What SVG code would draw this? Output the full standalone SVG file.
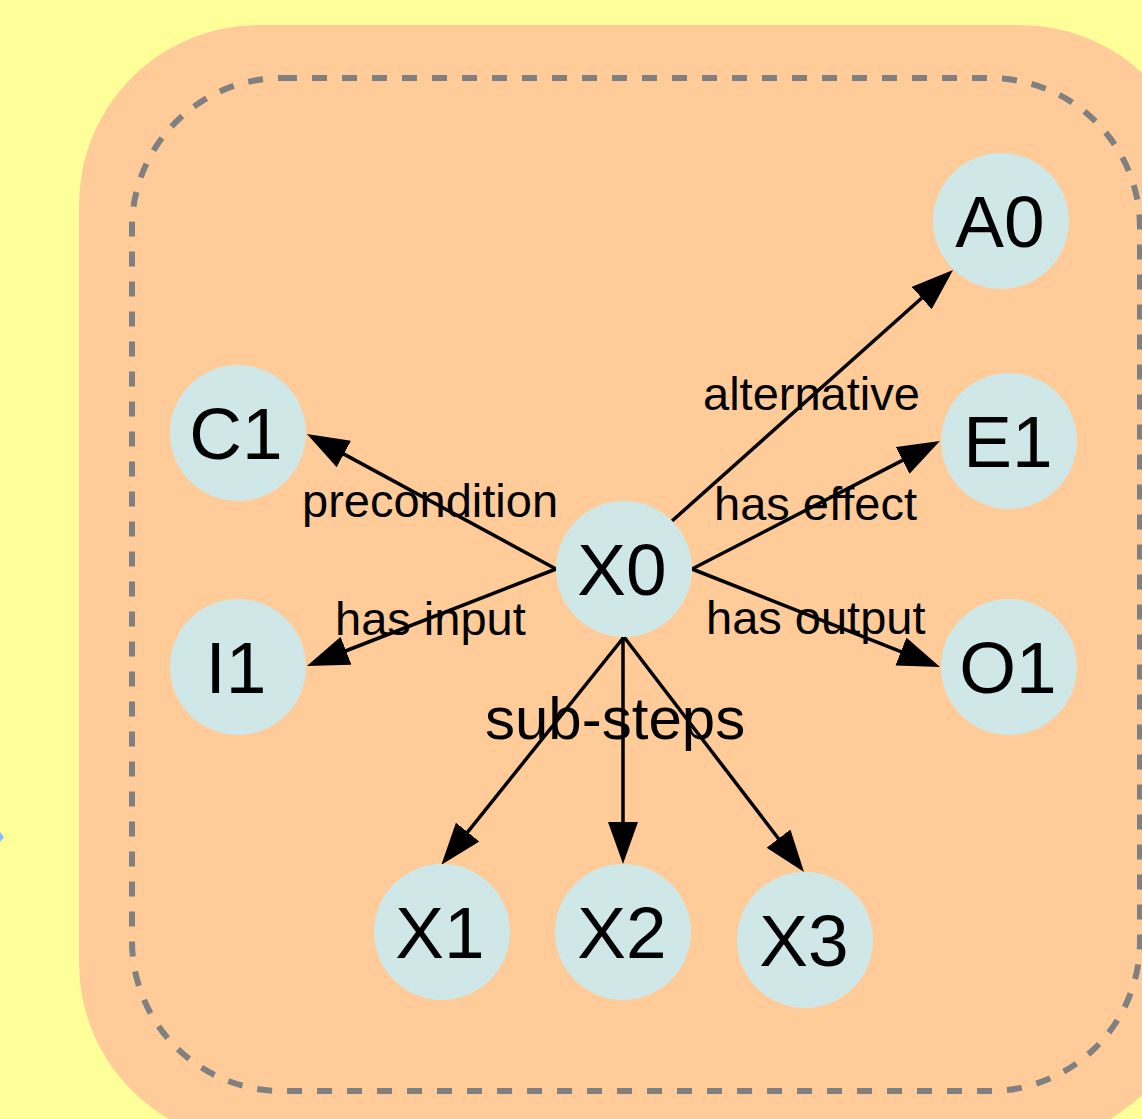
<svg xmlns="http://www.w3.org/2000/svg" width="1142" height="1119" viewBox="0 0 1142 1119">
<style>
.node circle{fill:#cfe7e6;}
.node text{font-family:"Liberation Sans",Arial,sans-serif;font-size:73px;fill:#000;text-anchor:middle;}
.edge line{stroke:#000;stroke-width:3.5;marker-end:url(#arr);}
.lbl{font-family:"Liberation Sans",Arial,sans-serif;font-size:47px;fill:#000;}
.lbl.big{font-size:60px;}
</style>
<defs>
<marker id="arr" markerUnits="userSpaceOnUse" markerWidth="43" markerHeight="30" refX="2" refY="15" orient="auto">
<path d="M0,0 L42,15 L0,30 Z" fill="#000"/>
</marker>
</defs>
<rect x="0" y="0" width="1142" height="1119" fill="#ffff99"/>
<path d="M0,832 L4,837 L0,842 Z" fill="#80c0ff"/>
<rect id="cluster-bg" x="79" y="25" width="1121" height="1118" rx="180" ry="180" fill="#ffcc99"/>
<rect id="cluster" x="132" y="78" width="1008" height="1013" rx="150" ry="150" fill="none" stroke="#808080" stroke-width="6" stroke-dasharray="15 15"/>
<g id="connectors" class="edge">
<line x1="556" y1="569" x2="342.1" y2="453.1"/>
<line x1="556" y1="569" x2="344.2" y2="651.5"/>
<line x1="692" y1="569" x2="904.4" y2="459.4"/>
<line x1="692" y1="569" x2="902.8" y2="652.3"/>
<line x1="672" y1="521" x2="923.2" y2="296.7"/>
<line x1="624" y1="637" x2="466.4" y2="833.6"/>
<line x1="623" y1="637" x2="623" y2="824"/>
<line x1="624" y1="637" x2="779.7" y2="840.2"/>
</g>
<g id="edge-labels">
<text class="lbl" x="302" y="517">precondition</text>
<text class="lbl" x="335" y="635">has input</text>
<text class="lbl" x="703" y="410">alternative</text>
<text class="lbl" x="714" y="520">has effect</text>
<text class="lbl" x="706" y="634">has output</text>
<text class="lbl big" x="485" y="739">sub-steps</text>
</g>
<g id="X0" class="node"><circle cx="624" cy="569" r="68"/><text x="622" y="595">X0</text></g>
<g id="A0" class="node"><circle cx="1001" cy="221" r="68"/><text x="1000" y="247">A0</text></g>
<g id="C1" class="node"><circle cx="238" cy="433" r="68"/><text x="236" y="459">C1</text></g>
<g id="I1" class="node"><circle cx="238" cy="667" r="68"/><text x="236" y="693">I1</text></g>
<g id="E1" class="node"><circle cx="1009" cy="441" r="68"/><text x="1008" y="467">E1</text></g>
<g id="O1" class="node"><circle cx="1009" cy="667" r="68"/><text x="1008" y="693">O1</text></g>
<g id="X1" class="node"><circle cx="442" cy="932" r="68"/><text x="440" y="958">X1</text></g>
<g id="X2" class="node"><circle cx="623" cy="932" r="68"/><text x="622" y="958">X2</text></g>
<g id="X3" class="node"><circle cx="805" cy="940" r="68"/><text x="804" y="966">X3</text></g>
</svg>
